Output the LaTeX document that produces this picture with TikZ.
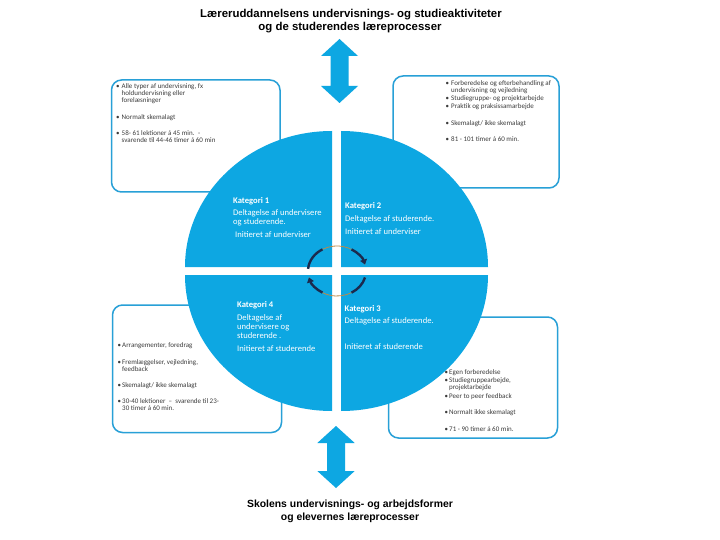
\documentclass[tikz,border=0pt]{standalone}
\usepackage{fontspec}
\setmainfont{Carlito}
\newfontfamily\titlefont{Liberation Sans}
\usetikzlibrary{arrows.meta}
\definecolor{qblue}{RGB}{13,167,226}
\definecolor{bblue}{RGB}{40,160,215}
\definecolor{navyc}{RGB}{27,42,78}
\definecolor{tanc}{RGB}{185,138,74}
\definecolor{btext}{RGB}{60,60,60}
\tikzset{
  infobox/.style={draw=bblue, line width=1.5pt, rounded corners=10pt, fill=white},
  boxtxt/.style={anchor=base west, inner sep=0pt, font=\fontsize{7}{8}\selectfont, text=btext},
  qtxt/.style={anchor=base west, inner sep=0pt, font=\fontsize{8.6}{10}\selectfont, text=white},
  ttl/.style={anchor=base, inner sep=0pt, font=\titlefont\bfseries\fontsize{11.4}{13}\selectfont},
  bttl/.style={anchor=base, inner sep=0pt, font=\titlefont\bfseries\fontsize{10.4}{12}\selectfont},
  quad/.style={fill=qblue},
  blockarrow/.style={fill=qblue},
  cyclethin/.style={draw=tanc, line width=0.8pt},
  cyclethick/.style={draw=navyc, line width=2.4pt},
}
\begin{document}
\begin{tikzpicture}[x=1pt,y=-1pt]
\useasboundingbox[fill=white] (0,0) rectangle (720,540);

% titles
\node[ttl] (title1) at (351,18) {Læreruddannelsens undervisnings- og studieaktiviteter};
\node[ttl] (title2) at (350,31) {og de studerendes læreprocesser};
\node[bttl] (btitle1) at (350,507) {Skolens undervisnings- og arbejdsformer};
\node[bttl] (btitle2) at (350,520.5) {og elevernes læreprocesser};

% block arrows
\fill[blockarrow] (339.5,39) -- (358,56) -- (348.5,56) -- (348.5,86) -- (358,86) -- (339.5,103)
  -- (321,86) -- (330.5,86) -- (330.5,56) -- (321,56) -- cycle;
\fill[blockarrow] (336,426) -- (354.7,443) -- (345,443) -- (345,471) -- (354.7,471) -- (336,488)
  -- (317.3,471) -- (327,471) -- (327,443) -- (317.3,443) -- cycle;

% info boxes
\draw[infobox] (111.5,80) rectangle (280,192);
\draw[infobox] (393,76) rectangle (559,188);
\draw[infobox] (112.5,305) rectangle (281.5,432.5);
\draw[infobox] (388.5,317) rectangle (557.5,438);

% top-left box text
\node[boxtxt] (tlb1) at (116,89) {•};
\node[boxtxt] (tl1) at (121.5,89) {Alle typer af undervisning, fx};
\node[boxtxt] (tl1b) at (121.5,96) {holdundervisning eller};
\node[boxtxt] (tl1c) at (121.5,103) {forelæsninger};
\node[boxtxt] (tlb2) at (116,120) {•};
\node[boxtxt] (tl2) at (121.5,120) {Normalt skemalagt};
\node[boxtxt] (tlb3) at (116,136) {•};
\node[boxtxt] (tl3) at (121.5,136) {58- 61 lektioner á 45 min. \ -};
\node[boxtxt] (tl3b) at (121.5,143) {svarende til 44-46 timer á 60 min};

% top-right box text
\node[boxtxt] (trb1) at (445.5,85.3) {•};
\node[boxtxt] (tr1) at (451,85.3) {Forberedelse og efterbehandling af};
\node[boxtxt] (tr1b) at (451,92.7) {undervisning og vejledning};
\node[boxtxt] (trb2) at (445.5,101) {•};
\node[boxtxt] (tr2) at (451,101) {Studiegruppe- og projektarbejde};
\node[boxtxt] (trb3) at (445.5,108.7) {•};
\node[boxtxt] (tr3) at (451,108.7) {Praktik og praksissamarbejde};
\node[boxtxt] (trb4) at (445.5,125.3) {•};
\node[boxtxt] (tr4) at (451,125.3) {Skemalagt/ ikke skemalagt};
\node[boxtxt] (trb5) at (445.5,141.3) {•};
\node[boxtxt] (tr5) at (451,141.3) {81 - 101 timer á 60 min.};

% bottom-left box text
\node[boxtxt] (blb1) at (117.5,347) {•};
\node[boxtxt] (bl1) at (122,347) {Arrangementer, foredrag};
\node[boxtxt] (blb2) at (117.5,364) {•};
\node[boxtxt] (bl2) at (122,364) {Fremlæggelser, vejledning,};
\node[boxtxt] (bl2b) at (122,371) {feedback};
\node[boxtxt] (blb3) at (117.5,387) {•};
\node[boxtxt] (bl3) at (122,387) {Skemalagt/ ikke skemalagt};
\node[boxtxt] (blb4) at (117.5,403.5) {•};
\node[boxtxt] (bl4) at (122,403.5) {30-40 lektioner \ – \ svarende til 23-};
\node[boxtxt] (bl4b) at (122,410.5) {30 timer á 60 min.};

% bottom-right box text
\node[boxtxt] (brb1) at (444.5,374) {•};
\node[boxtxt] (br1) at (449,374) {Egen forberedelse};
\node[boxtxt] (brb2) at (444.5,382) {•};
\node[boxtxt] (br2) at (449,382) {Studiegruppearbejde,};
\node[boxtxt] (br2b) at (449,389.5) {projektarbejde};
\node[boxtxt] (brb3) at (444.5,398) {•};
\node[boxtxt] (br3) at (449,398) {Peer to peer feedback};
\node[boxtxt] (brb4) at (444.5,414.5) {•};
\node[boxtxt] (br4) at (449,414.5) {Normalt ikke skemalagt};
\node[boxtxt] (brb5) at (444.5,431) {•};
\node[boxtxt] (br5) at (449,431) {71 - 90 timer á 60 min.};

% circle quadrants
\fill[quad] (332,267) -- (185,267) arc[start angle=180, end angle=270, x radius=147, y radius=136] -- cycle;
\fill[quad] (341,267) -- (341,131) arc[start angle=270, end angle=360, x radius=147, y radius=136] -- cycle;
\fill[quad] (341,275) -- (488,275) arc[start angle=0, end angle=90, x radius=147, y radius=136] -- cycle;
\fill[quad] (332,275) -- (332,411) arc[start angle=90, end angle=180, x radius=147, y radius=136] -- cycle;

% quadrant texts
\node[qtxt] (k1) at (233,203.8) {\bfseries Kategori 1};
\node[qtxt] (k1a) at (233,215.8) {Deltagelse af undervisere};
\node[qtxt] (k1b) at (233,224.8) {og studerende.};
\node[qtxt] (k1c) at (235,237.8) {Initieret af underviser};

\node[qtxt] (k2) at (345,208.8) {\bfseries Kategori 2};
\node[qtxt] (k2a) at (345,221.8) {Deltagelse af studerende.};
\node[qtxt] (k2b) at (345,234.8) {Initieret af underviser};

\node[qtxt] (k4) at (237,307.8) {\bfseries Kategori 4};
\node[qtxt] (k4a) at (237,320.8) {Deltagelse af};
\node[qtxt] (k4b) at (237,329.5) {undervisere og};
\node[qtxt] (k4c) at (237,338.8) {studerende .};
\node[qtxt] (k4d) at (237,351.3) {Initieret af studerende};

\node[qtxt] (k3) at (344.5,311) {\bfseries Kategori 3};
\node[qtxt] (k3a) at (344.5,323.5) {Deltagelse af studerende.};
\node[qtxt] (k3b) at (344.5,349.3) {Initieret af studerende};

% cycle arrows
\coordinate (cc) at (337,271);
\draw[cyclethin] (cc) ++(185:29 and 25) arc[start angle=185, end angle=345, x radius=29, y radius=25];
\draw[cyclethick] (cc) ++(185:29 and 25) arc[start angle=185, end angle=240, x radius=29, y radius=25];
\draw[cyclethick, -{Triangle[length=5pt,width=7pt]}] (cc) ++(300:29 and 25) arc[start angle=300, end angle=345, x radius=29, y radius=25];
\draw[cyclethin] (cc) ++(15:29 and 25) arc[start angle=15, end angle=165, x radius=29, y radius=25];
\draw[cyclethick] (cc) ++(15:29 and 25) arc[start angle=15, end angle=60, x radius=29, y radius=25];
\draw[cyclethick, -{Triangle[length=5pt,width=7pt]}] (cc) ++(120:29 and 25) arc[start angle=120, end angle=165, x radius=29, y radius=25];
\end{tikzpicture}
\end{document}
